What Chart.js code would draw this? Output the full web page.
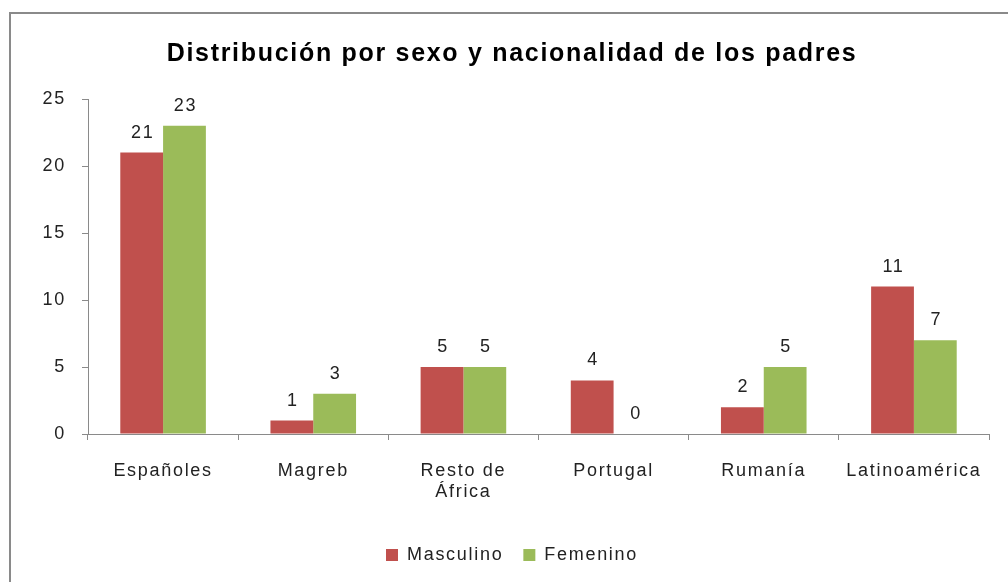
<!DOCTYPE html>
<html>
<head>
<meta charset="utf-8">
<script src="https://cdn.jsdelivr.net/npm/chart.js@4/dist/chart.umd.min.js"></script>
<style>
  html, body { margin: 0; padding: 0; background: #fff; }
  #wrap { position: relative; width: 1008px; height: 582px; overflow: hidden; }
  #frame { position: absolute; left: 9px; top: 12px; width: 1100px; height: 700px; border-left: 2px solid #8a8a8a; border-top: 2px solid #8a8a8a; }
  canvas { position: absolute; left: 0; top: 0; }
</style>
</head>
<body>
<div id="wrap">
  <div id="frame"></div>
  <canvas id="chart" width="1008" height="582"></canvas>
</div>
<script>
const categories = ["Españoles", "Magreb", ["Resto de", "África"], "Portugal", "Rumanía", "Latinoamérica"];
const masculino = [21, 1, 5, 4, 2, 11];
const femenino = [23, 3, 5, 0, 5, 7];
const yTicks = [0, 5, 10, 15, 20, 25];

const FONT = "'Liberation Sans', Arial, sans-serif";

// GDI-style text in the original is wider than Liberation Sans, so spread it a bit
const spacing = {
  id: "spacing",
  beforeInit(chart) { chart.ctx.letterSpacing = "1.7px"; },
  beforeLayout(chart) { chart.ctx.letterSpacing = "1.7px"; },
  beforeDraw(chart) { chart.ctx.letterSpacing = "1.7px"; }
};

const valueLabels = {
  id: "valueLabels",
  afterDatasetsDraw(chart) {
    const ctx = chart.ctx;
    ctx.save();
    ctx.font = "18px " + FONT;
    ctx.fillStyle = "#222";
    ctx.textAlign = "center";
    ctx.textBaseline = "bottom";
    chart.data.datasets.forEach((ds, i) => {
      chart.getDatasetMeta(i).data.forEach((bar, j) => {
        ctx.fillText(String(ds.data[j]), bar.x + 1, bar.y - 11);
      });
    });
    ctx.restore();
  }
};

new Chart(document.getElementById("chart"), {
  type: "bar",
  data: {
    labels: categories,
    datasets: [
      { label: "Masculino", data: masculino, backgroundColor: "#C0504D", categoryPercentage: 0.57, barPercentage: 1 },
      { label: "Femenino", data: femenino, backgroundColor: "#9BBB59", categoryPercentage: 0.57, barPercentage: 1 }
    ]
  },
  options: {
    responsive: false,
    animation: false,
    layout: { padding: { left: 35, right: 19, top: 0, bottom: 8 } },
    plugins: {
      title: {
        display: true,
        text: "Distribución por sexo y nacionalidad de los padres",
        color: "#000",
        font: { family: FONT, size: 25, weight: "bold" },
        padding: { top: 39, bottom: 30 }
      },
      legend: {
        position: "bottom",
        labels: { color: "#222", font: { family: FONT, size: 18 }, boxWidth: 12, boxHeight: 12, padding: 20 }
      },
      tooltip: { enabled: false }
    },
    scales: {
      x: {
        grid: { drawOnChartArea: false, drawTicks: true, tickLength: 6, color: "#8a8a8a" },
        border: { color: "#8a8a8a", width: 1 },
        ticks: { color: "#222", font: { family: FONT, size: 18 }, padding: 20, autoSkip: false, maxRotation: 0 },
        afterFit(scale) { scale.height = 92; }
      },
      y: {
        min: 0,
        max: 25,
        afterBuildTicks(scale) { scale.ticks = yTicks.map(v => ({ value: v })); },
        grid: { drawOnChartArea: false, drawTicks: true, tickLength: 6, color: "#8a8a8a" },
        border: { color: "#8a8a8a", width: 1 },
        ticks: { color: "#222", font: { family: FONT, size: 18 }, padding: 16 },
        afterFit(scale) { scale.width = 53; }
      }
    }
  },
  plugins: [spacing, valueLabels]
});
</script>
</body>
</html>
